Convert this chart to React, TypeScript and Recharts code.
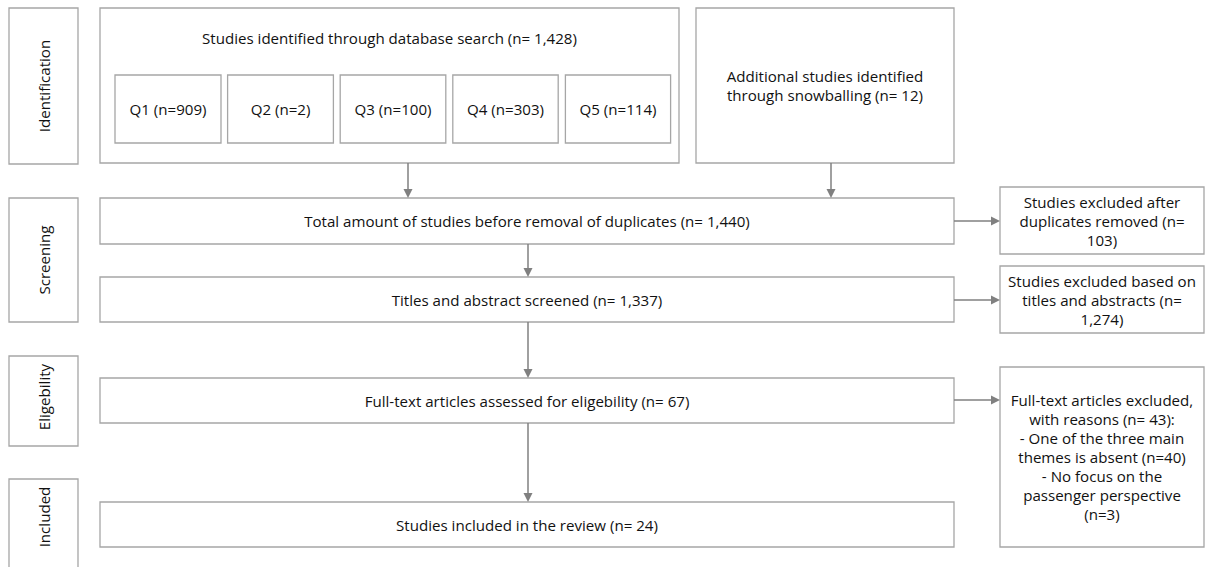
import { ComposedChart, XAxis, YAxis, ReferenceArea, ReferenceLine } from "recharts"

// canvas size (the axes map 1:1 onto it)
const W = 1205
const H = 567

// counts
const stageNames = ["Identification", "Screening", "Eligebility", "Included"]
const queryNames = ["Q1", "Q2", "Q3", "Q4", "Q5"]
const queryCounts = [909, 2, 100, 303, 114]
const databaseTotal = 1428
const snowballCount = 12
const flowLabels = [
  "Total amount of studies before removal of duplicates",
  "Titles and abstract screened",
  "Full-text articles assessed for eligebility",
  "Studies included in the review",
]
const flowCounts = [1440, 1337, 67, 24]
const excludedCounts = [103, 1274, 43]
const reasonCounts = [40, 3]

const fmt = (n: number) => n.toLocaleString("en-US")

// layout
const FONT = "'Open Sans', 'Noto Sans', sans-serif"
const FS = 15.1
const LINE = 19
const TEXT = "#111"
const BOX = "#a6a6a6"
const ARROW = "#808080"

const stageBoxes = [
  { y1: 8, y2: 164, cy: 86 },
  { y1: 198, y2: 322, cy: 260 },
  { y1: 356, y2: 446, cy: 397 },
  { y1: 479, y2: 640, cy: 517 },
]
const flowBoxes = [
  [198, 244],
  [277, 322],
  [378, 423],
  [502, 547],
]
const excludedBoxes = [
  [187, 254],
  [266, 333],
  [367, 547],
]

const excludedLines = [
  ["Studies excluded after", "duplicates removed (n=", `${fmt(excludedCounts[0])})`],
  ["Studies excluded based on", "titles and abstracts (n=", `${fmt(excludedCounts[1])})`],
  [
    "Full-text articles excluded,",
    `with reasons (n= ${excludedCounts[2]}):`,
    "- One of the three main",
    `themes is absent (n=${reasonCounts[0]})`,
    "- No focus on the",
    "passenger perspective",
    `(n=${reasonCounts[1]})`,
  ],
]

// multi-line centred text inside a reference area
const boxText = (lines: string[], opts: { top?: number; rotate?: boolean; cy?: number } = {}) =>
  (props: any) => {
    const vb = props.viewBox || {}
    const cx = vb.x + vb.width / 2
    if (opts.rotate) {
      const cy = opts.cy ?? vb.y + vb.height / 2
      return (
        <text
          x={cx}
          y={cy}
          transform={`rotate(-90 ${cx} ${cy})`}
          textAnchor="middle"
          dominantBaseline="central"
          fontFamily={FONT}
          fontSize={FS}
          fill={TEXT}
        >
          {lines[0]}
        </text>
      )
    }
    const startY =
      opts.top !== undefined ? vb.y + opts.top : vb.y + vb.height / 2 - ((lines.length - 1) * LINE) / 2
    return (
      <text textAnchor="middle" fontFamily={FONT} fontSize={FS} fill={TEXT}>
        {lines.map((l, i) => (
          <tspan key={i} x={cx} y={startY + i * LINE} dominantBaseline="central">
            {l}
          </tspan>
        ))}
      </text>
    )
  }

// arrow drawn from the reference line's end points
const arrow = (p: any) => {
  const { x1, y1, x2, y2 } = p
  const len = Math.hypot(x2 - x1, y2 - y1) || 1
  const ux = (x2 - x1) / len
  const uy = (y2 - y1) / len
  const hl = 9
  const hw = 4.5
  const bx = x2 - ux * hl
  const by = y2 - uy * hl
  return (
    <g>
      <line x1={x1} y1={y1} x2={bx} y2={by} stroke={ARROW} strokeWidth={1.5} />
      <polygon
        points={`${x2},${y2} ${bx - uy * hw},${by + ux * hw} ${bx + uy * hw},${by - ux * hw}`}
        fill={ARROW}
      />
    </g>
  )
}

const arrows = [
  [408, 163, 408, 198],
  [831, 163, 831, 198],
  [528, 244, 528, 277],
  [528, 322, 528, 378],
  [528, 423, 528, 502],
  [954, 221, 1000, 221],
  [954, 300, 1000, 300],
  [954, 400, 1000, 400],
]

export default function App() {
  const area = { fill: "#fff", fillOpacity: 1, stroke: BOX, strokeWidth: 1.3, ifOverflow: "visible" as const }
  return (
    <div style={{ position: "absolute", left: 0, top: 0, background: "#fff" }}>
      <ComposedChart width={W} height={H} data={[]} margin={{ top: 0, right: 0, bottom: 0, left: 0 }}>
        <XAxis type="number" dataKey="x" domain={[0, W]} allowDataOverflow hide />
        <YAxis type="number" dataKey="y" domain={[0, H]} allowDataOverflow reversed hide />

        {stageNames.map((s, i) => (
          <ReferenceArea
            key={s}
            x1={9}
            x2={78}
            y1={stageBoxes[i].y1}
            y2={stageBoxes[i].y2}
            {...area}
            label={boxText([s], { rotate: true, cy: stageBoxes[i].cy })}
          />
        ))}

        <ReferenceArea
          x1={100}
          x2={679}
          y1={8}
          y2={163}
          {...area}
          label={boxText([`Studies identified through database search (n= ${fmt(databaseTotal)})`], { top: 30 })}
        />
        {queryNames.map((q, i) => (
          <ReferenceArea
            key={q}
            x1={115 + i * 112.6}
            x2={221 + i * 112.4}
            y1={75}
            y2={143}
            {...area}
            label={boxText([`${q} (n=${queryCounts[i]})`])}
          />
        ))}
        <ReferenceArea
          x1={696}
          x2={954}
          y1={8}
          y2={163}
          {...area}
          label={boxText(["Additional studies identified", `through snowballing (n= ${snowballCount})`])}
        />

        {flowLabels.map((f, i) => (
          <ReferenceArea
            key={f}
            x1={100}
            x2={954}
            y1={flowBoxes[i][0]}
            y2={flowBoxes[i][1]}
            {...area}
            label={boxText([`${f} (n= ${fmt(flowCounts[i])})`])}
          />
        ))}

        {excludedBoxes.map((b, i) => (
          <ReferenceArea
            key={i}
            x1={1000}
            x2={1204}
            y1={b[0]}
            y2={b[1]}
            {...area}
            label={boxText(excludedLines[i])}
          />
        ))}

        {arrows.map((a, i) => (
          <ReferenceLine
            key={i}
            segment={[
              { x: a[0], y: a[1] },
              { x: a[2], y: a[3] },
            ]}
            ifOverflow="visible"
            shape={arrow}
          />
        ))}
      </ComposedChart>
    </div>
  )
}
